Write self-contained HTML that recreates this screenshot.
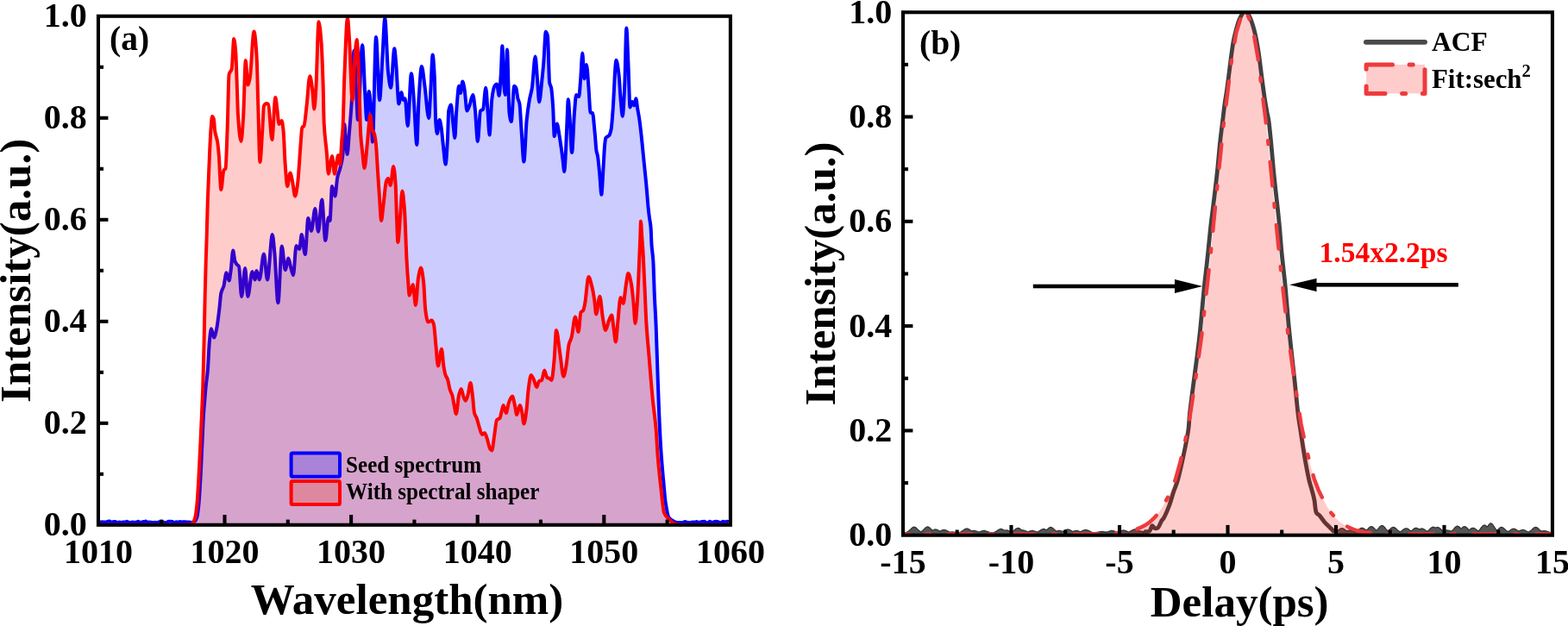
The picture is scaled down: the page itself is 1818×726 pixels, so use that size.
<!DOCTYPE html>
<html><head><meta charset="utf-8"><style>
html,body{margin:0;padding:0;background:#fff;width:1818px;height:726px;overflow:hidden}
svg{display:block}
</style></head><body>
<svg width="1818" height="726" viewBox="0 0 1818 726">
<rect width="1818" height="726" fill="#fff"/>
<clipPath id="ca"><rect x="113.95" y="18.75" width="732.9499999999999" height="590.05"/></clipPath>
<g clip-path="url(#ca)">
<path d="M114,605C114.7,605.3 115.5,605.5 116.2,605.5C116.9,605.5 117.7,605.2 118.4,605.2C119.1,605.2 119.9,605.6 120.6,605.6C121.3,605.6 122.1,605.6 122.8,605.6C123.5,605.6 124.3,604.8 125,604.7C125.7,604.6 126.5,604.6 127.2,604.6C127.9,604.6 128.7,605.9 129.4,605.9C130.1,605.9 130.9,605 131.6,605C132.3,605 133.1,605 133.8,605C134.5,605 135.3,606.2 136,606.2C136.7,606.2 137.5,605.4 138.2,605.4C138.9,605.4 139.7,605.9 140.4,605.9C141.1,605.9 141.9,605.4 142.6,605.4C143.3,605.4 144.1,605.6 144.8,605.6C145.5,605.6 146.3,604.8 147,604.8C147.7,604.8 148.5,605.4 149.2,605.6C149.9,605.8 150.7,606 151.4,606C152.1,606 152.9,605.4 153.6,605.4C154.3,605.4 155.1,605.8 155.8,605.8C156.5,605.8 157.3,605.8 158,605.7C158.7,605.6 159.5,604.7 160.2,604.7C160.9,604.7 161.7,605.8 162.4,605.8C163.1,605.8 163.9,605.6 164.6,605.5C165.3,605.4 166.1,605.2 166.8,605.1C167.5,605 168.3,604.6 169,604.6C169.7,604.6 170.5,606 171.2,606C171.9,606 172.7,605.4 173.4,605.4C174.1,605.4 174.9,605.7 175.6,605.8C176.3,605.9 177.1,606 177.8,606C178.5,606 179.3,605.7 180,605.7C180.7,605.7 181.5,606.1 182.2,606.1C182.9,606.1 183.7,605.2 184.4,605.2C185.1,605.2 185.9,605.9 186.6,605.9C187.3,605.9 188.1,605.3 188.8,605.3C189.5,605.3 190.3,606.1 191,606.1C191.7,606.1 192.5,606.1 193.2,606C193.9,605.9 194.7,604.8 195.4,604.8C196.1,604.8 196.9,604.8 197.6,604.8C198.3,604.8 199.1,604.8 199.8,604.9C200.5,605 201.3,606.1 202,606.1C202.7,606.1 203.5,605.3 204.2,605.3C204.9,605.3 205.7,605.6 206.4,605.6C207.1,605.6 207.9,605.1 208.6,605.1C209.3,605.1 210.1,605.4 210.8,605.4C211.5,605.4 212.3,605.2 213,605.2C213.7,605.2 214.5,605.2 215.2,605.2C215.9,605.2 216.7,605.5 217.4,605.5C218.1,605.5 218.9,605.5 219.6,605.5C220.3,605.5 221.1,606 221.8,606C222.5,606 223.3,605.6 224,605.4C224.5,605.2 225.1,605.1 225.6,604.8C226.5,604.3 227.4,602.8 228.3,600.3C229,598.4 229.7,592.3 230.4,585.6C231.1,578.9 231.8,566.3 232.5,554C233.2,542.3 233.8,526.2 234.5,512.3C235,501.9 235.5,488.8 236,481C236.6,472.2 237.1,467 237.7,460C238,456.3 238.3,452.1 238.6,449C239.3,441.4 240.1,438.3 240.8,430C241.5,422.1 242.2,402.5 242.9,395.7C243.6,388.9 244.3,381.2 245,381.2C246,381.2 247.1,391.6 248.1,391.6C249.1,391.6 250.2,386 251.2,381.2C252.2,376.4 253.3,367 254.3,358.5C255,353 255.6,342.9 256.3,340C257.3,335.5 258.4,335.3 259.4,331.7C260.4,328.1 261.5,316.2 262.5,316.2C263.5,316.2 264.6,325.5 265.6,325.5C266.3,325.5 267,318.1 267.7,313.1C268.5,307.2 269.4,290.4 270.2,290.4C270.9,290.4 271.7,300.8 272.4,302.7C273.2,304.9 274.1,305.9 274.9,306.9C275.6,307.8 276.3,307.8 277,309C278,310.8 279.1,344 280.1,344C281.5,344 282.8,311 284.2,311C285.2,311 286.3,344 287.3,344C289,344 290.8,315 292.5,315C293.5,315 294.6,324.4 295.6,324.4C296.3,324.4 296.9,314 297.6,314C298.6,314 299.7,324.4 300.7,324.4C302.4,324.4 304.2,294.5 305.9,294.5C307.3,294.5 308.6,324.4 310,324.4C311.9,324.4 313.9,272 315.8,272C316.6,272 317.5,283.9 318.3,292.4C319.7,306.3 321,351.3 322.4,351.3C323.9,351.3 325.3,285.5 326.8,285.5C328.1,285.5 329.4,313 330.7,313C331.9,313 333.2,299.6 334.4,299.6C335.2,299.6 336.1,306.1 336.9,309C337.9,312.7 339,319.3 340,319.3C341.2,319.3 342.3,285 343.5,285C344.7,285 346,289 347.2,289C348,289 348.9,272 349.7,272C351.1,272 352.4,295 353.8,295C355,295 356.1,253 357.3,253C358.5,253 359.8,267.8 361,267.8C362.4,267.8 363.9,242 365.3,242C366.5,242 367.8,268.8 369,268.8C370.4,268.8 371.8,231.6 373.2,231.6C374.6,231.6 375.9,279 377.3,279C378.5,279 379.6,252.3 380.8,252.3C381.4,252.3 381.9,256 382.5,256C383.3,256 384.2,216 385,216C386.2,216 387.3,227.5 388.5,227.5C389.4,227.5 390.3,210.1 391.2,205.8C392.2,200.9 393.3,199.6 394.3,195.5C395.3,191.4 396.4,188.4 397.4,180C398.1,174.6 398.7,144 399.4,144C399.9,144 400.5,159.6 401,165C401.6,170.7 402.1,179 402.7,179C403.3,179 404,165.5 404.6,158C405.6,145.8 406.7,134.7 407.7,118.3C408.7,103 409.6,58.4 410.6,58.4C411.4,58.4 412.1,85.6 412.9,100C413.6,112.5 414.2,139 414.9,139C416.6,139 418.4,52.2 420.1,52.2C421.1,52.2 422.2,90.9 423.2,108C423.9,119 424.5,139 425.2,139C426,139 426.9,106 427.7,106C428.6,106 429.5,118.5 430.4,130.7C430.9,137.5 431.4,164.5 431.9,164.5C433.3,164.5 434.6,43 436,43C437.4,43 438.7,116.2 440.1,116.2C441.2,116.2 442.3,83.6 443.4,66.7C444.4,51.9 445.3,21.2 446.3,21.2C447.5,21.2 448.8,72.5 450,83.2C451,92.2 452.1,101.8 453.1,101.8C454.5,101.8 455.9,56.3 457.3,56.3C458,56.3 458.6,67.5 459.3,75C460.3,86.6 461.4,120.4 462.4,120.4C463.4,120.4 464.5,107 465.5,107C466.2,107 466.8,116 467.5,116C468.2,116 469,114.2 469.7,114.2C470.7,114.2 471.7,146 472.7,146C474.1,146 475.5,85.2 476.9,85.2C477.9,85.2 479,105.4 480,118.3C481.1,132 482.2,168 483.3,168C484.1,168 484.8,126.1 485.6,114.2C486.7,97.1 487.8,77 488.9,77C490.1,77 491.3,91.5 492.5,100C494,110.9 495.6,137 497.1,137C497.9,137 498.6,116.2 499.4,103.8C500.1,92 500.9,63.6 501.6,63.6C502.3,63.6 503,75.1 503.7,87.3C504.2,96.6 504.8,136.6 505.3,143.1C505.8,149.6 506.4,155 506.9,155C507.8,155 508.6,139 509.5,139C510.2,139 510.8,143.3 511.5,147C512.3,151.6 513.2,162.9 514,170C514.9,177.4 515.7,190.6 516.6,190.6C517.4,190.6 518.2,174.3 519,160C519.4,152.9 519.8,130.8 520.2,128.6C521.1,123.7 522,121.4 522.9,121.4C523.8,121.4 524.6,137.7 525.5,145C526.1,150.3 526.8,160 527.4,160C528,160 528.5,138.1 529.1,130.7C530.1,117.3 531.2,99.7 532.2,99.7C532.8,99.7 533.4,108 534,108C534.8,108 535.5,94.5 536.3,94.5C537,94.5 537.8,99.2 538.5,103C539.5,108.2 540.5,128.6 541.5,128.6C542.5,128.6 543.5,124.6 544.5,122C545.8,118.7 547,110 548.3,110C549.1,110 550,119.5 550.8,126.6C551.8,135.4 552.9,164 553.9,164C554.9,164 556,129.9 557,128.6C558,127.3 559.1,127.8 560.1,126.6C561.1,125.4 562.2,101.8 563.2,101.8C564,101.8 564.8,119.8 565.6,130C566.2,138.1 566.9,156.5 567.5,156.5C568.5,156.5 569.4,121.1 570.4,114.2C571.4,106.8 572.5,101.1 573.5,99.7C574.3,98.5 575.2,97.6 576,97.6C576.9,97.6 577.8,111.1 578.7,111.1C579.4,111.1 580,97.3 580.7,87.3C581.3,78.8 581.8,53.2 582.4,53.2C582.9,53.2 583.5,88.4 584,95C584.6,102.8 585.3,110 585.9,110C586.6,110 587.3,57.4 588,57.4C588.8,57.4 589.7,124.3 590.5,130.7C591.3,136.6 592,141 592.8,141C593.9,141 595.1,99.7 596.2,99.7C596.9,99.7 597.6,100.7 598.3,102C599,103.3 599.7,111.4 600.4,114.2C601.1,116.9 601.7,117 602.4,120.4C603.1,123.9 603.8,140.5 604.5,150C605.5,163.1 606.4,187.5 607.4,187.5C608.5,187.5 609.6,149.7 610.7,139C611.7,128.9 612.8,122.1 613.8,116.2C614.8,110.3 615.9,108.2 616.9,101.8C618.1,94.1 619.4,65.6 620.6,65.6C621.4,65.6 622.3,83.9 623.1,93.5C623.8,101.5 624.5,118.3 625.2,118.3C626.2,118.3 627.3,102.9 628.3,93.5C629,87.4 629.6,80.9 630.3,72.9C631.1,62.9 632,36.7 632.8,36.7C633.5,36.7 634.3,38.8 635,42C635.7,45.1 636.4,91.8 637.1,95.6C637.8,99.3 638.4,98.6 639.1,101.8C639.8,105.2 640.5,114.1 641.2,124.5C641.7,131.9 642.2,158 642.7,158C643.7,158 644.8,143.5 645.8,143.5C646.7,143.5 647.6,151.9 648.5,157C649.2,160.8 649.8,165.4 650.5,170C651.2,174.6 651.8,179.9 652.5,185C653.1,189.6 653.7,199 654.3,199C654.9,199 655.4,185 656,175C656.5,166.2 657,150.5 657.5,140C657.9,130.9 658.4,115.2 658.8,115.2C659.4,115.2 659.9,127.4 660.5,135C661.4,146.6 662.2,177 663.1,177C664.1,177 665,142.3 666,130.7C666.7,122.3 667.4,110 668.1,110C669.1,110 670.2,112.1 671.2,112.1C671.9,112.1 672.5,99.4 673.2,91.4C673.9,83 674.6,61.5 675.3,61.5C676,61.5 676.7,91.4 677.4,91.4C678.3,91.4 679.1,74.9 680,74.9C680.8,74.9 681.7,91.7 682.5,101.8C683.2,110.3 683.9,130.5 684.6,130.7C685.4,130.9 686.1,130.8 686.9,131C687.9,131.2 688.8,146 689.8,155.5C690.4,161.1 690.9,171.7 691.5,175C692,177.9 692.5,178.3 693,181C693.8,185.5 694.7,196.2 695.5,205C696.1,211.3 696.7,225.7 697.3,225.7C698,225.7 698.8,206.2 699.5,195C700,187.4 700.5,175.2 701,170C701.4,165.5 701.9,160.7 702.3,160C703.6,157.9 705,158.7 706.3,157C707.1,156 707.8,153.7 708.6,150C709.2,147.1 709.8,138 710.4,130.7C711.8,114 713.1,69.8 714.5,69.8C715.5,69.8 716.6,78.8 717.6,87.3C718.3,93.1 719,108.7 719.7,116.2C720.4,123.7 721.1,134.8 721.8,134.8C722.6,134.8 723.5,114.8 724.3,97.6C725,83.8 725.6,32.6 726.3,32.6C727,32.6 727.7,57.8 728.4,72.9C729.1,88 729.8,124.5 730.5,124.5C731.3,124.5 732.2,118 733,118C733.7,118 734.5,122.4 735.2,122.4C735.9,122.4 736.6,114.2 737.3,114.2C738,114.2 738.6,122.6 739.3,126.6C740,130.8 740.7,134.2 741.4,139C741.9,142.6 742.5,147.1 743,151.7C744.2,161.8 745.3,174.5 746.5,186.1C747.6,197.4 748.8,207.8 749.9,220.5C750.4,226.5 751,234.7 751.5,240C752,244.7 752.4,248.4 752.9,252C753.4,256.1 754,257.4 754.5,263C754.9,266.9 755.2,280.1 755.6,285C756.2,292.6 756.7,293.4 757.3,301.6C757.8,308.8 758.3,330.2 758.8,341.7C759.4,355.4 760,363.3 760.6,377.5C761.2,392.5 761.9,415.8 762.5,433.7C763.1,450.6 763.7,468.7 764.3,482.4C764.9,496.9 765.6,510 766.2,519.8C767.2,535.4 768.2,546.2 769.2,557.3C770.1,566.9 770.9,578 771.8,583.5C773.1,591.6 774.3,599 775.6,600.6C777.5,603 779.3,603.6 781.2,604.6C782,605 782.7,605.5 783.5,605.7C784.2,605.9 785,606.1 785.7,606.1C786.4,606.1 787.2,606 787.9,606C788.6,606 789.4,606.2 790.1,606.2C790.8,606.2 791.6,605.9 792.3,605.7C793,605.5 793.8,604.9 794.5,604.9C795.2,604.9 796,605.9 796.7,606C797.4,606.1 798.2,606.1 798.9,606.1C799.6,606.1 800.4,606.1 801.1,606C801.8,605.9 802.6,605.5 803.3,605.5C804,605.5 804.8,605.7 805.5,605.7C806.2,605.7 807,604.9 807.7,604.9C808.4,604.9 809.2,605.9 809.9,605.9C810.6,605.9 811.4,605.6 812.1,605.5C812.8,605.4 813.6,605.2 814.3,605.1C815,605 815.8,604.7 816.5,604.7C817.2,604.7 818,605.9 818.7,606C819.4,606.1 820.2,606.2 820.9,606.2C821.6,606.2 822.4,604.7 823.1,604.7C823.8,604.7 824.6,605.9 825.3,605.9C826,605.9 826.8,605.5 827.5,605.3C828.2,605.1 829,604.8 829.7,604.8C830.4,604.8 831.2,605 831.9,605.1C832.6,605.2 833.4,605.7 834.1,605.8C834.8,605.9 835.6,606 836.3,606C837,606 837.8,604.7 838.5,604.7C839.2,604.7 840,605.6 840.7,605.6C841.4,605.6 842.2,604.7 842.9,604.7C843.6,604.7 844.4,605.1 845.1,605.7 L845.1,608.8 L114,608.8 Z" fill="#00f" fill-opacity="0.2"/>
<path d="M114,605C114.7,605.3 115.5,605.5 116.2,605.5C116.9,605.5 117.7,605.2 118.4,605.2C119.1,605.2 119.9,605.6 120.6,605.6C121.3,605.6 122.1,605.6 122.8,605.6C123.5,605.6 124.3,604.8 125,604.7C125.7,604.6 126.5,604.6 127.2,604.6C127.9,604.6 128.7,605.9 129.4,605.9C130.1,605.9 130.9,605 131.6,605C132.3,605 133.1,605 133.8,605C134.5,605 135.3,606.2 136,606.2C136.7,606.2 137.5,605.4 138.2,605.4C138.9,605.4 139.7,605.9 140.4,605.9C141.1,605.9 141.9,605.4 142.6,605.4C143.3,605.4 144.1,605.6 144.8,605.6C145.5,605.6 146.3,604.8 147,604.8C147.7,604.8 148.5,605.4 149.2,605.6C149.9,605.8 150.7,606 151.4,606C152.1,606 152.9,605.4 153.6,605.4C154.3,605.4 155.1,605.8 155.8,605.8C156.5,605.8 157.3,605.8 158,605.7C158.7,605.6 159.5,604.7 160.2,604.7C160.9,604.7 161.7,605.8 162.4,605.8C163.1,605.8 163.9,605.6 164.6,605.5C165.3,605.4 166.1,605.2 166.8,605.1C167.5,605 168.3,604.6 169,604.6C169.7,604.6 170.5,606 171.2,606C171.9,606 172.7,605.4 173.4,605.4C174.1,605.4 174.9,605.7 175.6,605.8C176.3,605.9 177.1,606 177.8,606C178.5,606 179.3,605.7 180,605.7C180.7,605.7 181.5,606.1 182.2,606.1C182.9,606.1 183.7,605.2 184.4,605.2C185.1,605.2 185.9,605.9 186.6,605.9C187.3,605.9 188.1,605.3 188.8,605.3C189.5,605.3 190.3,606.1 191,606.1C191.7,606.1 192.5,606.1 193.2,606C193.9,605.9 194.7,604.8 195.4,604.8C196.1,604.8 196.9,604.8 197.6,604.8C198.3,604.8 199.1,604.8 199.8,604.9C200.5,605 201.3,606.1 202,606.1C202.7,606.1 203.5,605.3 204.2,605.3C204.9,605.3 205.7,605.6 206.4,605.6C207.1,605.6 207.9,605.1 208.6,605.1C209.3,605.1 210.1,605.4 210.8,605.4C211.5,605.4 212.3,605.2 213,605.2C213.7,605.2 214.5,605.2 215.2,605.2C215.9,605.2 216.7,605.5 217.4,605.5C218.1,605.5 218.9,605.5 219.6,605.5C220.3,605.5 221.1,606 221.8,606C222.5,606 223.3,605.6 224,605.4C224.5,605.2 225.1,605.1 225.6,604.8C226.5,604.3 227.4,602.8 228.3,600.3C229,598.4 229.7,592.3 230.4,585.6C231.1,578.9 231.8,566.3 232.5,554C233.2,542.3 233.8,526.2 234.5,512.3C235,501.9 235.5,488.8 236,481C236.6,472.2 237.1,467 237.7,460C238,456.3 238.3,452.1 238.6,449C239.3,441.4 240.1,438.3 240.8,430C241.5,422.1 242.2,402.5 242.9,395.7C243.6,388.9 244.3,381.2 245,381.2C246,381.2 247.1,391.6 248.1,391.6C249.1,391.6 250.2,386 251.2,381.2C252.2,376.4 253.3,367 254.3,358.5C255,353 255.6,342.9 256.3,340C257.3,335.5 258.4,335.3 259.4,331.7C260.4,328.1 261.5,316.2 262.5,316.2C263.5,316.2 264.6,325.5 265.6,325.5C266.3,325.5 267,318.1 267.7,313.1C268.5,307.2 269.4,290.4 270.2,290.4C270.9,290.4 271.7,300.8 272.4,302.7C273.2,304.9 274.1,305.9 274.9,306.9C275.6,307.8 276.3,307.8 277,309C278,310.8 279.1,344 280.1,344C281.5,344 282.8,311 284.2,311C285.2,311 286.3,344 287.3,344C289,344 290.8,315 292.5,315C293.5,315 294.6,324.4 295.6,324.4C296.3,324.4 296.9,314 297.6,314C298.6,314 299.7,324.4 300.7,324.4C302.4,324.4 304.2,294.5 305.9,294.5C307.3,294.5 308.6,324.4 310,324.4C311.9,324.4 313.9,272 315.8,272C316.6,272 317.5,283.9 318.3,292.4C319.7,306.3 321,351.3 322.4,351.3C323.9,351.3 325.3,285.5 326.8,285.5C328.1,285.5 329.4,313 330.7,313C331.9,313 333.2,299.6 334.4,299.6C335.2,299.6 336.1,306.1 336.9,309C337.9,312.7 339,319.3 340,319.3C341.2,319.3 342.3,285 343.5,285C344.7,285 346,289 347.2,289C348,289 348.9,272 349.7,272C351.1,272 352.4,295 353.8,295C355,295 356.1,253 357.3,253C358.5,253 359.8,267.8 361,267.8C362.4,267.8 363.9,242 365.3,242C366.5,242 367.8,268.8 369,268.8C370.4,268.8 371.8,231.6 373.2,231.6C374.6,231.6 375.9,279 377.3,279C378.5,279 379.6,252.3 380.8,252.3C381.4,252.3 381.9,256 382.5,256C383.3,256 384.2,216 385,216C386.2,216 387.3,227.5 388.5,227.5C389.4,227.5 390.3,210.1 391.2,205.8C392.2,200.9 393.3,199.6 394.3,195.5C395.3,191.4 396.4,188.4 397.4,180C398.1,174.6 398.7,144 399.4,144C399.9,144 400.5,159.6 401,165C401.6,170.7 402.1,179 402.7,179C403.3,179 404,165.5 404.6,158C405.6,145.8 406.7,134.7 407.7,118.3C408.7,103 409.6,58.4 410.6,58.4C411.4,58.4 412.1,85.6 412.9,100C413.6,112.5 414.2,139 414.9,139C416.6,139 418.4,52.2 420.1,52.2C421.1,52.2 422.2,90.9 423.2,108C423.9,119 424.5,139 425.2,139C426,139 426.9,106 427.7,106C428.6,106 429.5,118.5 430.4,130.7C430.9,137.5 431.4,164.5 431.9,164.5C433.3,164.5 434.6,43 436,43C437.4,43 438.7,116.2 440.1,116.2C441.2,116.2 442.3,83.6 443.4,66.7C444.4,51.9 445.3,21.2 446.3,21.2C447.5,21.2 448.8,72.5 450,83.2C451,92.2 452.1,101.8 453.1,101.8C454.5,101.8 455.9,56.3 457.3,56.3C458,56.3 458.6,67.5 459.3,75C460.3,86.6 461.4,120.4 462.4,120.4C463.4,120.4 464.5,107 465.5,107C466.2,107 466.8,116 467.5,116C468.2,116 469,114.2 469.7,114.2C470.7,114.2 471.7,146 472.7,146C474.1,146 475.5,85.2 476.9,85.2C477.9,85.2 479,105.4 480,118.3C481.1,132 482.2,168 483.3,168C484.1,168 484.8,126.1 485.6,114.2C486.7,97.1 487.8,77 488.9,77C490.1,77 491.3,91.5 492.5,100C494,110.9 495.6,137 497.1,137C497.9,137 498.6,116.2 499.4,103.8C500.1,92 500.9,63.6 501.6,63.6C502.3,63.6 503,75.1 503.7,87.3C504.2,96.6 504.8,136.6 505.3,143.1C505.8,149.6 506.4,155 506.9,155C507.8,155 508.6,139 509.5,139C510.2,139 510.8,143.3 511.5,147C512.3,151.6 513.2,162.9 514,170C514.9,177.4 515.7,190.6 516.6,190.6C517.4,190.6 518.2,174.3 519,160C519.4,152.9 519.8,130.8 520.2,128.6C521.1,123.7 522,121.4 522.9,121.4C523.8,121.4 524.6,137.7 525.5,145C526.1,150.3 526.8,160 527.4,160C528,160 528.5,138.1 529.1,130.7C530.1,117.3 531.2,99.7 532.2,99.7C532.8,99.7 533.4,108 534,108C534.8,108 535.5,94.5 536.3,94.5C537,94.5 537.8,99.2 538.5,103C539.5,108.2 540.5,128.6 541.5,128.6C542.5,128.6 543.5,124.6 544.5,122C545.8,118.7 547,110 548.3,110C549.1,110 550,119.5 550.8,126.6C551.8,135.4 552.9,164 553.9,164C554.9,164 556,129.9 557,128.6C558,127.3 559.1,127.8 560.1,126.6C561.1,125.4 562.2,101.8 563.2,101.8C564,101.8 564.8,119.8 565.6,130C566.2,138.1 566.9,156.5 567.5,156.5C568.5,156.5 569.4,121.1 570.4,114.2C571.4,106.8 572.5,101.1 573.5,99.7C574.3,98.5 575.2,97.6 576,97.6C576.9,97.6 577.8,111.1 578.7,111.1C579.4,111.1 580,97.3 580.7,87.3C581.3,78.8 581.8,53.2 582.4,53.2C582.9,53.2 583.5,88.4 584,95C584.6,102.8 585.3,110 585.9,110C586.6,110 587.3,57.4 588,57.4C588.8,57.4 589.7,124.3 590.5,130.7C591.3,136.6 592,141 592.8,141C593.9,141 595.1,99.7 596.2,99.7C596.9,99.7 597.6,100.7 598.3,102C599,103.3 599.7,111.4 600.4,114.2C601.1,116.9 601.7,117 602.4,120.4C603.1,123.9 603.8,140.5 604.5,150C605.5,163.1 606.4,187.5 607.4,187.5C608.5,187.5 609.6,149.7 610.7,139C611.7,128.9 612.8,122.1 613.8,116.2C614.8,110.3 615.9,108.2 616.9,101.8C618.1,94.1 619.4,65.6 620.6,65.6C621.4,65.6 622.3,83.9 623.1,93.5C623.8,101.5 624.5,118.3 625.2,118.3C626.2,118.3 627.3,102.9 628.3,93.5C629,87.4 629.6,80.9 630.3,72.9C631.1,62.9 632,36.7 632.8,36.7C633.5,36.7 634.3,38.8 635,42C635.7,45.1 636.4,91.8 637.1,95.6C637.8,99.3 638.4,98.6 639.1,101.8C639.8,105.2 640.5,114.1 641.2,124.5C641.7,131.9 642.2,158 642.7,158C643.7,158 644.8,143.5 645.8,143.5C646.7,143.5 647.6,151.9 648.5,157C649.2,160.8 649.8,165.4 650.5,170C651.2,174.6 651.8,179.9 652.5,185C653.1,189.6 653.7,199 654.3,199C654.9,199 655.4,185 656,175C656.5,166.2 657,150.5 657.5,140C657.9,130.9 658.4,115.2 658.8,115.2C659.4,115.2 659.9,127.4 660.5,135C661.4,146.6 662.2,177 663.1,177C664.1,177 665,142.3 666,130.7C666.7,122.3 667.4,110 668.1,110C669.1,110 670.2,112.1 671.2,112.1C671.9,112.1 672.5,99.4 673.2,91.4C673.9,83 674.6,61.5 675.3,61.5C676,61.5 676.7,91.4 677.4,91.4C678.3,91.4 679.1,74.9 680,74.9C680.8,74.9 681.7,91.7 682.5,101.8C683.2,110.3 683.9,130.5 684.6,130.7C685.4,130.9 686.1,130.8 686.9,131C687.9,131.2 688.8,146 689.8,155.5C690.4,161.1 690.9,171.7 691.5,175C692,177.9 692.5,178.3 693,181C693.8,185.5 694.7,196.2 695.5,205C696.1,211.3 696.7,225.7 697.3,225.7C698,225.7 698.8,206.2 699.5,195C700,187.4 700.5,175.2 701,170C701.4,165.5 701.9,160.7 702.3,160C703.6,157.9 705,158.7 706.3,157C707.1,156 707.8,153.7 708.6,150C709.2,147.1 709.8,138 710.4,130.7C711.8,114 713.1,69.8 714.5,69.8C715.5,69.8 716.6,78.8 717.6,87.3C718.3,93.1 719,108.7 719.7,116.2C720.4,123.7 721.1,134.8 721.8,134.8C722.6,134.8 723.5,114.8 724.3,97.6C725,83.8 725.6,32.6 726.3,32.6C727,32.6 727.7,57.8 728.4,72.9C729.1,88 729.8,124.5 730.5,124.5C731.3,124.5 732.2,118 733,118C733.7,118 734.5,122.4 735.2,122.4C735.9,122.4 736.6,114.2 737.3,114.2C738,114.2 738.6,122.6 739.3,126.6C740,130.8 740.7,134.2 741.4,139C741.9,142.6 742.5,147.1 743,151.7C744.2,161.8 745.3,174.5 746.5,186.1C747.6,197.4 748.8,207.8 749.9,220.5C750.4,226.5 751,234.7 751.5,240C752,244.7 752.4,248.4 752.9,252C753.4,256.1 754,257.4 754.5,263C754.9,266.9 755.2,280.1 755.6,285C756.2,292.6 756.7,293.4 757.3,301.6C757.8,308.8 758.3,330.2 758.8,341.7C759.4,355.4 760,363.3 760.6,377.5C761.2,392.5 761.9,415.8 762.5,433.7C763.1,450.6 763.7,468.7 764.3,482.4C764.9,496.9 765.6,510 766.2,519.8C767.2,535.4 768.2,546.2 769.2,557.3C770.1,566.9 770.9,578 771.8,583.5C773.1,591.6 774.3,599 775.6,600.6C777.5,603 779.3,603.6 781.2,604.6C782,605 782.7,605.5 783.5,605.7C784.2,605.9 785,606.1 785.7,606.1C786.4,606.1 787.2,606 787.9,606C788.6,606 789.4,606.2 790.1,606.2C790.8,606.2 791.6,605.9 792.3,605.7C793,605.5 793.8,604.9 794.5,604.9C795.2,604.9 796,605.9 796.7,606C797.4,606.1 798.2,606.1 798.9,606.1C799.6,606.1 800.4,606.1 801.1,606C801.8,605.9 802.6,605.5 803.3,605.5C804,605.5 804.8,605.7 805.5,605.7C806.2,605.7 807,604.9 807.7,604.9C808.4,604.9 809.2,605.9 809.9,605.9C810.6,605.9 811.4,605.6 812.1,605.5C812.8,605.4 813.6,605.2 814.3,605.1C815,605 815.8,604.7 816.5,604.7C817.2,604.7 818,605.9 818.7,606C819.4,606.1 820.2,606.2 820.9,606.2C821.6,606.2 822.4,604.7 823.1,604.7C823.8,604.7 824.6,605.9 825.3,605.9C826,605.9 826.8,605.5 827.5,605.3C828.2,605.1 829,604.8 829.7,604.8C830.4,604.8 831.2,605 831.9,605.1C832.6,605.2 833.4,605.7 834.1,605.8C834.8,605.9 835.6,606 836.3,606C837,606 837.8,604.7 838.5,604.7C839.2,604.7 840,605.6 840.7,605.6C841.4,605.6 842.2,604.7 842.9,604.7C843.6,604.7 844.4,605.1 845.1,605.7" fill="none" stroke="#00f" stroke-width="4" stroke-linejoin="round"/>
<path d="M114,608.8C136,608.8 158,608.8 180,608.8C193.3,608.8 206.7,608.8 220,608.6C221.1,608.6 222.1,607.9 223.2,607C224.2,606.2 225.2,603.8 226.2,600.3C226.9,597.9 227.6,592.3 228.3,585.6C229,578.9 229.7,566.2 230.4,554.2C231.1,542.2 231.8,527.1 232.5,512.3C233,502.4 233.4,491.8 233.9,481C234.3,471 234.8,462.8 235.2,450C235.6,437.2 236.1,418.6 236.5,400C236.9,382.8 237.3,359 237.7,342C238.1,326.4 238.4,311.9 238.8,300C239,292.5 239.3,287.4 239.5,280C239.9,266.3 240.4,245.9 240.8,233C241.5,212.1 242.2,196.1 242.9,181C243.4,169.5 244,157 244.5,150C245,143.4 245.5,135 246,135C246.6,135 247.2,136.2 247.8,138C248.3,139.4 248.7,149 249.2,152C250.2,158.4 251.2,158.8 252.2,165C252.7,168.3 253.3,173.8 253.8,180C254.6,189.7 255.5,220 256.3,220C257.3,220 258.4,199.2 259.4,197.5C260.1,196.4 260.8,196.8 261.5,195.5C262.2,194.2 262.9,168.1 263.6,150C264.3,132.7 264.9,88.6 265.6,86C266.6,82 267.7,83.6 268.7,80C269.5,77.1 270.4,45 271.2,45C271.9,45 272.6,52.5 273.3,61C273.8,67.5 274.4,88.5 274.9,103C275.3,113 275.6,128.7 276,134C277.2,150.9 278.3,164 279.5,164C280.4,164 281.2,148.9 282.1,136C283,122.6 283.9,70 284.8,70C285.6,70 286.5,98.5 287.3,98.5C288.1,98.5 289,94.1 289.8,90C291.4,82.2 292.9,36.5 294.5,36.5C295.5,36.5 296.6,49.5 297.6,65.5C298.2,74.3 298.7,104.7 299.3,123C300,145.7 300.7,188 301.4,188C302.4,188 303.3,164.4 304.3,150C304.8,142 305.4,124.1 305.9,123C306.9,120.9 308,120 309,120C309.7,120 310.4,120.4 311.1,121C312.5,122.2 314,162 315.4,162C316.7,162 318,113 319.3,113C320,113 320.7,121.9 321.4,127C322.1,132.1 322.8,144 323.5,144C324.5,144 325.6,140 326.6,140C327.3,140 327.9,146 328.6,152C329.3,158.3 330,181.8 330.7,191C331.5,201.9 332.4,216 333.2,216C334.3,216 335.4,200.6 336.5,200.6C337.3,200.6 338.2,206.3 339,210C340,214.6 341.1,227.5 342.1,227.5C343.1,227.5 344.2,219.5 345.2,212C346.2,204.5 347.3,183.6 348.3,171C349,162.8 349.6,149.1 350.3,148C351,146.7 351.8,147.1 352.5,146C353.5,144.4 354.5,131.3 355.5,123C356.8,112.5 358,88.3 359.3,88.3C360.3,88.3 361.2,96.9 362.2,104C362.9,109.1 363.6,126.6 364.3,126.6C365,126.6 365.7,112.9 366.4,102C367.4,85.9 368.5,25.3 369.5,25.3C370.5,25.3 371.6,37.2 372.6,50C373.3,58.3 373.9,76.9 374.6,97.6C375,109 375.3,136 375.7,143C376.7,162.7 377.8,164.9 378.8,177C379.5,184.8 380.1,201.7 380.8,201.7C381.5,201.7 382.3,193.6 383,190C383.7,186.8 384.3,181 385,181C386,181 387,201.7 388,201.7C388.7,201.7 389.3,193.4 390,190C390.7,186.2 391.5,180 392.2,180C392.9,180 393.6,191 394.3,191C395,191 395.6,170.2 396.3,162C396.7,157.5 397,155.7 397.4,150C398.1,139.7 398.7,103.1 399.4,87C400.6,58.8 401.7,21 402.9,21C403.8,21 404.7,40.5 405.6,56C406.3,68.1 407,100 407.7,108C408,111.8 408.4,116 408.7,116C409.4,116 410.1,86.6 410.8,77C411.8,63.7 412.7,46 413.7,46C414.2,46 414.8,57.3 415.3,67C415.9,77.3 416.4,100 417,118C417.4,129.7 417.7,149 418.1,155C418.8,167 419.6,170.4 420.3,177C421,183.6 421.8,195 422.5,195C423.6,195 424.8,176.3 425.9,166C427,155.7 428.2,133 429.3,133C430,133 430.7,148.9 431.4,150.7C432.1,152.6 432.9,152.3 433.6,154C434.3,155.7 435.1,160.1 435.8,166C436.5,171.9 437.3,188 438,199C438.7,210 439.5,221.7 440.2,232C440.8,240.5 441.4,256 442,256C442.9,256 443.7,243.7 444.6,237C445.7,228.5 446.8,212.5 447.9,210C448.6,208.4 449.4,207 450.1,207C451,207 451.8,215 452.7,215C453.9,215 455,193 456.2,193C457,193 457.8,202.2 458.6,213C459.1,219.3 459.5,241.6 460,253C460.4,263.6 460.9,281 461.3,281C462.2,281 463.2,259.9 464.1,249C464.9,240.1 465.6,221.6 466.4,221.6C467.3,221.6 468.1,232.4 469,243C469.8,253.2 470.7,286.1 471.5,301C472.2,313.5 472.9,323.5 473.6,332C473.9,336 474.3,342.6 474.6,342.6C476,342.6 477.4,330 478.8,330C479.8,330 480.9,354 481.9,354C482.9,354 484,327.6 485,322C486,316.4 487.1,310.6 488.1,310.6C489.1,310.6 490.2,319.2 491.2,328C491.9,333.7 492.5,354 493.2,359C494.2,366.8 495.3,373.6 496.3,373.6C497.7,373.6 499.1,371.6 500.5,371.6C501.3,371.6 502.1,373.5 502.9,376C503.7,378.6 504.6,392.5 505.4,400.6C506.2,408.7 507.1,424.4 507.9,424.4C509.3,424.4 510.6,404.8 512,404.8C512.8,404.8 513.7,420.6 514.5,425.5C515.2,429.4 515.8,432.9 516.5,434.8C517.3,437.2 518.2,437.6 519,440C519.9,442.5 520.8,449.2 521.7,452C522.6,454.8 523.5,455.5 524.4,458.5C525.1,460.7 525.7,465.8 526.4,469C527.2,473 528.1,480 528.9,480C529.9,480 531,462.6 532,458.5C532.9,455 533.8,451 534.7,451C535.5,451 536.4,457.3 537.2,459.5C538,461.7 538.9,464.7 539.7,464.7C540.6,464.7 541.5,461.3 542.4,458.5C543.4,455.3 544.5,444 545.5,444C546.3,444 547.1,452.5 547.9,458.5C548.6,463.8 549.3,476.4 550,479C550.9,482.3 551.8,482.6 552.7,485C553.7,487.8 554.8,492.6 555.8,495.7C556.8,498.8 557.9,504 558.9,504C559.9,504 561,502 562,502C563,502 564.1,507 565.1,510C566.1,513 567.2,518.9 568.2,520.5C568.9,521.5 569.5,522.6 570.2,522.6C571.2,522.6 572.3,510.4 573.3,504C574.2,498.5 575.1,488 576,487C577.2,485.7 578.3,486.2 579.5,485C580.2,484.3 580.9,479.5 581.6,477C582.3,474.5 583,470 583.7,470C584.7,470 585.8,479 586.8,479C587.8,479 588.9,469.6 589.9,467C591.3,463.5 592.6,459.5 594,459.5C595,459.5 596.1,466.7 597.1,471C597.8,473.9 598.5,481 599.2,481C600.4,481 601.5,470 602.7,470C603.6,470 604.5,475 605.4,479C606.1,482 606.7,491.6 607.4,491.6C608.4,491.6 609.5,482.6 610.5,475C611.2,469.9 611.9,457.2 612.6,452C613.6,444.3 614.7,435 615.7,435C616.7,435 617.8,438 618.8,440C620,442.3 621.1,449 622.3,449C623.2,449 624.1,442.5 625,442C626,441.4 627.1,441.6 628.1,441C629.1,440.4 630.2,429.6 631.2,429.6C632.2,429.6 633.3,437.4 634.3,438C635.3,438.6 636.4,438.5 637.4,439C638.1,439.3 638.8,441 639.5,441C640.5,441 641.6,427.5 642.6,417C643.4,408.9 644.2,383 645,383C646.4,383 647.9,400.8 649.3,410C650.7,418.7 652,436.7 653.4,436.7C654.4,436.7 655.5,429.6 656.5,424C657.5,418.4 658.6,403.7 659.6,399.5C660.6,395.3 661.7,394.7 662.7,391C664.1,385.9 665.5,367.5 666.9,367.5C668.1,367.5 669.4,385 670.6,385C671.6,385 672.5,363.3 673.5,362C674.4,360.8 675.3,361.2 676.2,360C676.9,359.1 677.5,355.3 678.2,352C679.6,345 681,321 682.4,321C683.8,321 685.1,327.6 686.5,333C687.4,336.5 688.3,342 689.2,348C689.9,352.5 690.5,364.4 691.2,364.4C692.6,364.4 694,343.7 695.4,343.7C696.6,343.7 697.7,362 698.9,368.5C699.9,374.3 701,383 702,383C703.2,383 704.5,375.5 705.7,372.6C706.9,369.8 708,365.4 709.2,365.4C709.9,365.4 710.6,374.2 711.3,378.8C712.2,384.5 713,396.5 713.9,396.5C714.7,396.5 715.6,380.3 716.4,372.6C717.4,363.1 718.5,345 719.5,345C720.5,345 721.6,352 722.6,352C723.6,352 724.7,337.1 725.7,331C726.6,325.7 727.5,317 728.4,317C729.6,317 730.7,323.2 731.9,329C732.8,333.5 733.7,342.9 734.6,352C735.2,358.4 735.9,375 736.5,375C737.3,375 738,362.4 738.8,352C739.5,342.9 740.1,325.5 740.8,310.7C741.3,299.6 741.8,287.6 742.3,275C742.5,269.1 742.8,256.5 743,256.5C743.4,256.5 743.9,269 744.3,275C744.7,280.1 745,284.1 745.4,290C746.1,300.7 746.7,316.9 747.4,331C748.1,345.1 748.7,364.3 749.4,375C750.5,392.1 751.5,400.9 752.6,414C753.3,422.6 754,431.8 754.7,440C755.4,448.2 756.1,456.6 756.8,463.6C758.1,476.3 759.3,482.5 760.6,497.4C761.2,504.8 761.9,519.3 762.5,527.3C763.7,542.9 765,553.8 766.2,564.8C767.5,576 768.7,591.8 770,594.8C771.9,599.3 773.7,600.4 775.6,602.3C776.8,603.6 778.1,604.6 779.3,605.5C780.5,606.4 781.8,607.5 783,607.8C785.3,608.4 787.7,608.8 790,608.8C809,608.8 828,608.8 847,608.8 L847,608.8 L114,608.8 Z" fill="#f00" fill-opacity="0.2"/>
<path d="M114,608.8C136,608.8 158,608.8 180,608.8C193.3,608.8 206.7,608.8 220,608.6C221.1,608.6 222.1,607.9 223.2,607C224.2,606.2 225.2,603.8 226.2,600.3C226.9,597.9 227.6,592.3 228.3,585.6C229,578.9 229.7,566.2 230.4,554.2C231.1,542.2 231.8,527.1 232.5,512.3C233,502.4 233.4,491.8 233.9,481C234.3,471 234.8,462.8 235.2,450C235.6,437.2 236.1,418.6 236.5,400C236.9,382.8 237.3,359 237.7,342C238.1,326.4 238.4,311.9 238.8,300C239,292.5 239.3,287.4 239.5,280C239.9,266.3 240.4,245.9 240.8,233C241.5,212.1 242.2,196.1 242.9,181C243.4,169.5 244,157 244.5,150C245,143.4 245.5,135 246,135C246.6,135 247.2,136.2 247.8,138C248.3,139.4 248.7,149 249.2,152C250.2,158.4 251.2,158.8 252.2,165C252.7,168.3 253.3,173.8 253.8,180C254.6,189.7 255.5,220 256.3,220C257.3,220 258.4,199.2 259.4,197.5C260.1,196.4 260.8,196.8 261.5,195.5C262.2,194.2 262.9,168.1 263.6,150C264.3,132.7 264.9,88.6 265.6,86C266.6,82 267.7,83.6 268.7,80C269.5,77.1 270.4,45 271.2,45C271.9,45 272.6,52.5 273.3,61C273.8,67.5 274.4,88.5 274.9,103C275.3,113 275.6,128.7 276,134C277.2,150.9 278.3,164 279.5,164C280.4,164 281.2,148.9 282.1,136C283,122.6 283.9,70 284.8,70C285.6,70 286.5,98.5 287.3,98.5C288.1,98.5 289,94.1 289.8,90C291.4,82.2 292.9,36.5 294.5,36.5C295.5,36.5 296.6,49.5 297.6,65.5C298.2,74.3 298.7,104.7 299.3,123C300,145.7 300.7,188 301.4,188C302.4,188 303.3,164.4 304.3,150C304.8,142 305.4,124.1 305.9,123C306.9,120.9 308,120 309,120C309.7,120 310.4,120.4 311.1,121C312.5,122.2 314,162 315.4,162C316.7,162 318,113 319.3,113C320,113 320.7,121.9 321.4,127C322.1,132.1 322.8,144 323.5,144C324.5,144 325.6,140 326.6,140C327.3,140 327.9,146 328.6,152C329.3,158.3 330,181.8 330.7,191C331.5,201.9 332.4,216 333.2,216C334.3,216 335.4,200.6 336.5,200.6C337.3,200.6 338.2,206.3 339,210C340,214.6 341.1,227.5 342.1,227.5C343.1,227.5 344.2,219.5 345.2,212C346.2,204.5 347.3,183.6 348.3,171C349,162.8 349.6,149.1 350.3,148C351,146.7 351.8,147.1 352.5,146C353.5,144.4 354.5,131.3 355.5,123C356.8,112.5 358,88.3 359.3,88.3C360.3,88.3 361.2,96.9 362.2,104C362.9,109.1 363.6,126.6 364.3,126.6C365,126.6 365.7,112.9 366.4,102C367.4,85.9 368.5,25.3 369.5,25.3C370.5,25.3 371.6,37.2 372.6,50C373.3,58.3 373.9,76.9 374.6,97.6C375,109 375.3,136 375.7,143C376.7,162.7 377.8,164.9 378.8,177C379.5,184.8 380.1,201.7 380.8,201.7C381.5,201.7 382.3,193.6 383,190C383.7,186.8 384.3,181 385,181C386,181 387,201.7 388,201.7C388.7,201.7 389.3,193.4 390,190C390.7,186.2 391.5,180 392.2,180C392.9,180 393.6,191 394.3,191C395,191 395.6,170.2 396.3,162C396.7,157.5 397,155.7 397.4,150C398.1,139.7 398.7,103.1 399.4,87C400.6,58.8 401.7,21 402.9,21C403.8,21 404.7,40.5 405.6,56C406.3,68.1 407,100 407.7,108C408,111.8 408.4,116 408.7,116C409.4,116 410.1,86.6 410.8,77C411.8,63.7 412.7,46 413.7,46C414.2,46 414.8,57.3 415.3,67C415.9,77.3 416.4,100 417,118C417.4,129.7 417.7,149 418.1,155C418.8,167 419.6,170.4 420.3,177C421,183.6 421.8,195 422.5,195C423.6,195 424.8,176.3 425.9,166C427,155.7 428.2,133 429.3,133C430,133 430.7,148.9 431.4,150.7C432.1,152.6 432.9,152.3 433.6,154C434.3,155.7 435.1,160.1 435.8,166C436.5,171.9 437.3,188 438,199C438.7,210 439.5,221.7 440.2,232C440.8,240.5 441.4,256 442,256C442.9,256 443.7,243.7 444.6,237C445.7,228.5 446.8,212.5 447.9,210C448.6,208.4 449.4,207 450.1,207C451,207 451.8,215 452.7,215C453.9,215 455,193 456.2,193C457,193 457.8,202.2 458.6,213C459.1,219.3 459.5,241.6 460,253C460.4,263.6 460.9,281 461.3,281C462.2,281 463.2,259.9 464.1,249C464.9,240.1 465.6,221.6 466.4,221.6C467.3,221.6 468.1,232.4 469,243C469.8,253.2 470.7,286.1 471.5,301C472.2,313.5 472.9,323.5 473.6,332C473.9,336 474.3,342.6 474.6,342.6C476,342.6 477.4,330 478.8,330C479.8,330 480.9,354 481.9,354C482.9,354 484,327.6 485,322C486,316.4 487.1,310.6 488.1,310.6C489.1,310.6 490.2,319.2 491.2,328C491.9,333.7 492.5,354 493.2,359C494.2,366.8 495.3,373.6 496.3,373.6C497.7,373.6 499.1,371.6 500.5,371.6C501.3,371.6 502.1,373.5 502.9,376C503.7,378.6 504.6,392.5 505.4,400.6C506.2,408.7 507.1,424.4 507.9,424.4C509.3,424.4 510.6,404.8 512,404.8C512.8,404.8 513.7,420.6 514.5,425.5C515.2,429.4 515.8,432.9 516.5,434.8C517.3,437.2 518.2,437.6 519,440C519.9,442.5 520.8,449.2 521.7,452C522.6,454.8 523.5,455.5 524.4,458.5C525.1,460.7 525.7,465.8 526.4,469C527.2,473 528.1,480 528.9,480C529.9,480 531,462.6 532,458.5C532.9,455 533.8,451 534.7,451C535.5,451 536.4,457.3 537.2,459.5C538,461.7 538.9,464.7 539.7,464.7C540.6,464.7 541.5,461.3 542.4,458.5C543.4,455.3 544.5,444 545.5,444C546.3,444 547.1,452.5 547.9,458.5C548.6,463.8 549.3,476.4 550,479C550.9,482.3 551.8,482.6 552.7,485C553.7,487.8 554.8,492.6 555.8,495.7C556.8,498.8 557.9,504 558.9,504C559.9,504 561,502 562,502C563,502 564.1,507 565.1,510C566.1,513 567.2,518.9 568.2,520.5C568.9,521.5 569.5,522.6 570.2,522.6C571.2,522.6 572.3,510.4 573.3,504C574.2,498.5 575.1,488 576,487C577.2,485.7 578.3,486.2 579.5,485C580.2,484.3 580.9,479.5 581.6,477C582.3,474.5 583,470 583.7,470C584.7,470 585.8,479 586.8,479C587.8,479 588.9,469.6 589.9,467C591.3,463.5 592.6,459.5 594,459.5C595,459.5 596.1,466.7 597.1,471C597.8,473.9 598.5,481 599.2,481C600.4,481 601.5,470 602.7,470C603.6,470 604.5,475 605.4,479C606.1,482 606.7,491.6 607.4,491.6C608.4,491.6 609.5,482.6 610.5,475C611.2,469.9 611.9,457.2 612.6,452C613.6,444.3 614.7,435 615.7,435C616.7,435 617.8,438 618.8,440C620,442.3 621.1,449 622.3,449C623.2,449 624.1,442.5 625,442C626,441.4 627.1,441.6 628.1,441C629.1,440.4 630.2,429.6 631.2,429.6C632.2,429.6 633.3,437.4 634.3,438C635.3,438.6 636.4,438.5 637.4,439C638.1,439.3 638.8,441 639.5,441C640.5,441 641.6,427.5 642.6,417C643.4,408.9 644.2,383 645,383C646.4,383 647.9,400.8 649.3,410C650.7,418.7 652,436.7 653.4,436.7C654.4,436.7 655.5,429.6 656.5,424C657.5,418.4 658.6,403.7 659.6,399.5C660.6,395.3 661.7,394.7 662.7,391C664.1,385.9 665.5,367.5 666.9,367.5C668.1,367.5 669.4,385 670.6,385C671.6,385 672.5,363.3 673.5,362C674.4,360.8 675.3,361.2 676.2,360C676.9,359.1 677.5,355.3 678.2,352C679.6,345 681,321 682.4,321C683.8,321 685.1,327.6 686.5,333C687.4,336.5 688.3,342 689.2,348C689.9,352.5 690.5,364.4 691.2,364.4C692.6,364.4 694,343.7 695.4,343.7C696.6,343.7 697.7,362 698.9,368.5C699.9,374.3 701,383 702,383C703.2,383 704.5,375.5 705.7,372.6C706.9,369.8 708,365.4 709.2,365.4C709.9,365.4 710.6,374.2 711.3,378.8C712.2,384.5 713,396.5 713.9,396.5C714.7,396.5 715.6,380.3 716.4,372.6C717.4,363.1 718.5,345 719.5,345C720.5,345 721.6,352 722.6,352C723.6,352 724.7,337.1 725.7,331C726.6,325.7 727.5,317 728.4,317C729.6,317 730.7,323.2 731.9,329C732.8,333.5 733.7,342.9 734.6,352C735.2,358.4 735.9,375 736.5,375C737.3,375 738,362.4 738.8,352C739.5,342.9 740.1,325.5 740.8,310.7C741.3,299.6 741.8,287.6 742.3,275C742.5,269.1 742.8,256.5 743,256.5C743.4,256.5 743.9,269 744.3,275C744.7,280.1 745,284.1 745.4,290C746.1,300.7 746.7,316.9 747.4,331C748.1,345.1 748.7,364.3 749.4,375C750.5,392.1 751.5,400.9 752.6,414C753.3,422.6 754,431.8 754.7,440C755.4,448.2 756.1,456.6 756.8,463.6C758.1,476.3 759.3,482.5 760.6,497.4C761.2,504.8 761.9,519.3 762.5,527.3C763.7,542.9 765,553.8 766.2,564.8C767.5,576 768.7,591.8 770,594.8C771.9,599.3 773.7,600.4 775.6,602.3C776.8,603.6 778.1,604.6 779.3,605.5C780.5,606.4 781.8,607.5 783,607.8C785.3,608.4 787.7,608.8 790,608.8C809,608.8 828,608.8 847,608.8" fill="none" stroke="#f00" stroke-width="4" stroke-linejoin="round"/>
</g>
<g stroke="#000" stroke-width="4.1" fill="none">
<rect x="113.95" y="18.75" width="732.9499999999999" height="590.05"/>
<line x1="187.2" y1="608.8" x2="187.2" y2="602.6"/>
<line x1="260.5" y1="608.8" x2="260.5" y2="597"/>
<line x1="333.8" y1="608.8" x2="333.8" y2="602.6"/>
<line x1="407.1" y1="608.8" x2="407.1" y2="597"/>
<line x1="480.4" y1="608.8" x2="480.4" y2="602.6"/>
<line x1="553.7" y1="608.8" x2="553.7" y2="597"/>
<line x1="627" y1="608.8" x2="627" y2="602.6"/>
<line x1="700.3" y1="608.8" x2="700.3" y2="597"/>
<line x1="773.6" y1="608.8" x2="773.6" y2="602.6"/>
<line x1="114" y1="549.8" x2="120" y2="549.8"/>
<line x1="114" y1="490.8" x2="125.4" y2="490.8"/>
<line x1="114" y1="431.8" x2="120" y2="431.8"/>
<line x1="114" y1="372.8" x2="125.4" y2="372.8"/>
<line x1="114" y1="313.8" x2="120" y2="313.8"/>
<line x1="114" y1="254.8" x2="125.4" y2="254.8"/>
<line x1="114" y1="195.8" x2="120" y2="195.8"/>
<line x1="114" y1="136.8" x2="125.4" y2="136.8"/>
<line x1="114" y1="77.8" x2="120" y2="77.8"/>
</g>
<clipPath id="cb"><rect x="1047.0" y="14.25" width="752.95" height="606.45"/></clipPath>
<g clip-path="url(#cb)">
<path d="M1049.5,617.7 1050.5,617.5 1051.5,617.2 1052.5,616.7 1053.5,616 1054.5,615.1 1055.5,614.2 1056.5,613.2 1057.5,612.3 1058.5,611.6 1059.5,611.2 1060.5,611.3 1061.5,611.7 1062.5,612.4 1063.5,613.4 1064.5,614.4 1065.5,615.3 1066.5,616.1 1067.5,616.8 1068.5,616.4 1069.5,615.6 1070.5,614.7 1071.5,613.6 1072.5,612.6 1073.5,611.8 1074.5,611.2 1075.5,611 1076.5,611.2 1077.5,611.8 1078.5,612.6 1079.5,613.6 1080.5,614.7 1081.5,615 1082.5,614.5 1083.5,614.1 1084.5,614 1085.5,614.1 1086.5,614.4 1087.5,614.9 1088.5,615.5 1089.5,616 1090.5,615.8 1091.5,615.3 1092.5,614.9 1093.5,614.6 1094.5,614.5 1095.5,614.6 1096.5,614.9 1097.5,615.3 1098.5,615.8 1099.5,616.3 1100.5,616.8 1101.5,617.2 1102.5,617.1 1103.5,617 1104.5,617 1105.5,617.1 1106.5,617.2 1107.5,617.3 1108.5,617.5 1109.5,617.6 1110.5,617.7 1111.5,617.6 1112.5,617.4 1113.5,617 1114.5,616.5 1115.5,615.9 1116.5,615.2 1117.5,614.5 1118.5,613.8 1119.5,613.3 1120.5,613 1121.5,613.1 1122.5,613.4 1123.5,613.9 1124.5,614.6 1125.5,615.3 1126.5,616 1127.5,615.7 1128.5,615.5 1129.5,615.5 1130.5,615.6 1131.5,615.9 1132.5,616.2 1133.5,616.6 1134.5,616.9 1135.5,616.9 1136.5,616.5 1137.5,616.2 1138.5,615.8 1139.5,615.6 1140.5,615.5 1141.5,615.5 1142.5,615.7 1143.5,616 1144.5,616.4 1145.5,616.7 1146.5,617.1 1147.5,617.4 1148.5,617.6 1149.5,617.7 1150.5,617.8 1151.5,617.6 1152.5,617.3 1153.5,617 1154.5,616.5 1155.5,615.9 1156.5,615.2 1157.5,614.6 1158.5,614 1159.5,613.6 1160.5,613.5 1161.5,613.6 1162.5,614 1163.5,614.6 1164.5,615.2 1165.5,615.2 1166.5,615 1167.5,615 1168.5,615.2 1169.5,615.5 1170.5,615.9 1171.5,616.4 1172.5,616.8 1173.5,616.6 1174.5,616 1175.5,615.2 1176.5,614.4 1177.5,613.6 1178.5,613 1179.5,612.6 1180.5,612.5 1181.5,612.7 1182.5,613.2 1183.5,613.9 1184.5,614.7 1185.5,615 1186.5,615 1187.5,615.2 1188.5,615.5 1189.5,615.9 1190.5,616.4 1191.5,616.8 1192.5,616.6 1193.5,616.2 1194.5,615.9 1195.5,615.6 1196.5,615.5 1197.5,615.5 1198.5,615.7 1199.5,616 1200.5,616.3 1201.5,616.7 1202.5,617 1203.5,616.7 1204.5,616.2 1205.5,615.5 1206.5,614.9 1207.5,614.3 1208.5,613.8 1209.5,613.5 1210.5,613.5 1211.5,613.8 1212.5,614.3 1213.5,614.7 1214.5,613.8 1215.5,612.9 1216.5,612.1 1217.5,611.6 1218.5,611.5 1219.5,611.8 1220.5,612.4 1221.5,613.2 1222.5,614.2 1223.5,615.1 1224.5,615.9 1225.5,616 1226.5,615.7 1227.5,615.5 1228.5,615.5 1229.5,615.6 1230.5,615.9 1231.5,616.2 1232.5,616.4 1233.5,615.8 1234.5,615.2 1235.5,614.7 1236.5,614.3 1237.5,614 1238.5,614 1239.5,614.3 1240.5,614.7 1241.5,615.2 1242.5,615.8 1243.5,616.4 1244.5,616.3 1245.5,615.9 1246.5,615.7 1247.5,615.5 1248.5,615.5 1249.5,615.7 1250.5,615.9 1251.5,616.3 1252.5,616.6 1253.5,616.4 1254.5,615.9 1255.5,615.4 1256.5,615 1257.5,614.6 1258.5,614.5 1259.5,614.6 1260.5,614.8 1261.5,615.2 1262.5,615.7 1263.5,616.2 1264.5,616.7 1265.5,617.1 1266.5,617.4 1267.5,617.6 1268.5,617.8 1269.5,617.8 1270.5,617.7 1271.5,617.5 1272.5,617.3 1273.5,617.1 1274.5,616.9 1275.5,616.7 1276.5,616.6 1277.5,616.5 1278.5,616.5 1279.5,616.6 1280.5,616.8 1281.5,617 1282.5,617.2 1283.5,617 1284.5,616.7 1285.5,616.3 1286.5,616 1287.5,615.7 1288.5,615.5 1289.5,615.5 1290.5,615.6 1291.5,615.9 1292.5,616.2 1293.5,616.6 1294.5,616.9 1295.5,617.2 1296.5,616.9 1297.5,616.5 1298.5,616.1 1299.5,615.7 1300.5,615.3 1301.5,615.1 1302.5,615 1303.5,615.1 1304.5,615.4 1305.5,615.7 1306.5,616.2 1307.5,616.6 1308.5,617 1309.5,616.7 1310.5,616.2 1311.5,615.6 1312.5,615 1313.5,614.5 1314.5,614.1 1315.5,614 1316.5,614.1 1317.5,614.4 1318.5,614.9 1319.5,615.5 1320.5,616 1321.5,616 1322.5,616 1323.5,616.1 1324.5,616.3 1325.5,616.6 L1325.5,621 L1049.5,621 Z" fill="#555" stroke="#333" stroke-width="1.3" stroke-linejoin="round"/>
<path d="M1548,617.2 1549,616.7 1550,616.1 1551,615.4 1552,614.6 1553,613.9 1554,613.2 1555,612.8 1556,612.7 1557,612.9 1558,613.4 1559,614 1560,614.8 1561,615.6 1562,615.7 1563,615.3 1564,615.1 1565,615 1566,615.1 1567,615.3 1568,615.7 1569,616.1 1570,616.6 1571,617 1572,616.8 1573,616.2 1574,615.4 1575,614.6 1576,613.8 1577,613.1 1578,612.5 1579,612.3 1580,612.4 1581,612.8 1582,613.5 1583,614.3 1584,615.1 1585,614.5 1586,613.5 1587,612.4 1588,611.5 1589,610.9 1590,610.7 1591,610.9 1592,611.5 1593,612.4 1594,613.5 1595,614.5 1596,615.4 1597,614.3 1598,613.1 1599,611.9 1600,610.7 1601,609.9 1602,609.5 1603,609.6 1604,610.2 1605,611.2 1606,612.3 1607,613.6 1608,614.8 1609,615.8 1610,615.4 1611,614.4 1612,613.5 1613,612.6 1614,611.9 1615,611.5 1616,611.5 1617,611.9 1618,612.6 1619,613.5 1620,614.4 1621,615.4 1622,616.1 1623,616.8 1624,616.5 1625,615.8 1626,615.1 1627,614.3 1628,613.6 1629,613.1 1630,612.8 1631,612.9 1632,613.2 1633,613.7 1634,614.5 1635,615.2 1636,616 1637,615.2 1638,614.4 1639,613.6 1640,612.9 1641,612.4 1642,612.3 1643,612.5 1644,613 1645,613.7 1646,613.8 1647,613.3 1648,613 1649,613 1650,613.3 1651,613.8 1652,614.5 1653,615.3 1654,616 1655,616.2 1656,615.4 1657,614.5 1658,613.5 1659,612.5 1660,611.8 1661,611.3 1662,611.2 1663,611.5 1664,612.2 1665,612 1666,611.6 1667,611.5 1668,611.8 1669,612.4 1670,613.3 1671,614.2 1672,615.2 1673,616 1674,616.1 1675,615.7 1676,615.3 1677,615.1 1678,615 1679,615.1 1680,615.3 1681,615.7 1682,616.1 1683,616 1684,615.1 1685,614.1 1686,612.9 1687,611.8 1688,610.9 1689,610.3 1690,610.2 1691,610.5 1692,611.2 1693,612.2 1694,613.4 1695,612.4 1696,611.5 1697,610.9 1698,610.7 1699,610.9 1700,611.5 1701,612.4 1702,613.5 1703,614.5 1704,614.4 1705,613.6 1706,612.9 1707,612.4 1708,612.3 1709,612.5 1710,613 1711,613.7 1712,614.5 1713,615.4 1714,616 1715,615 1716,613.8 1717,612.5 1718,611.2 1719,610.1 1720,609.3 1721,609 1722,609.2 1723,609.9 1724,611 1725,610.3 1726,608.8 1727,607.6 1728,607 1729,607 1730,607.6 1731,608.8 1732,610.3 1733,611.9 1734,613.5 1735,614.8 1736,614.8 1737,613.9 1738,612.9 1739,612.2 1740,611.7 1741,611.5 1742,611.7 1743,612.3 1744,613.1 1745,614.1 1746,615 1747,615.8 1748,616.5 1749,616.4 1750,615.7 1751,615 1752,614.3 1753,613.7 1754,613.3 1755,613.2 1756,613.3 1757,613.7 1758,614.3 1759,615 1760,615.7 1761,616.2 1762,615.7 1763,615.2 1764,614.8 1765,614.6 1766,614.5 1767,614.7 1768,615 1769,615.5 1770,616 1771,616.5 1772,616.9 1773,616.8 1774,616.1 1775,615.4 1776,614.4 1777,613.5 1778,612.6 1779,611.9 1780,611.5 1781,611.5 1782,611.9 1783,612.6 1784,613.5 1785,614.4 1786,615.4 1787,616.1 1788,616 1789,615.7 1790,615.6 1791,615.6 1792,615.8 1793,616 1794,616.4 1795,616.7 1796,617.1 1797,617.3 1798,617.6 L1798,621 L1548,621 Z" fill="#555" stroke="#333" stroke-width="1.3" stroke-linejoin="round"/>
<path d="M1327.9,616.7C1328.7,616.5 1331.6,616.9 1332.9,615.7C1334.2,614.5 1334.9,610.2 1335.9,609.7C1336.9,609.2 1337.7,612.4 1338.9,612.7C1340.1,613 1341.6,613.2 1342.9,611.7C1344.2,610.2 1345.7,605.8 1346.9,603.8C1348.1,601.8 1348.4,602.8 1349.9,599.8C1351.4,596.8 1354.1,590.8 1355.9,585.8C1357.7,580.8 1359.2,574.8 1360.9,569.8C1362.6,564.8 1364,562.4 1365.8,555.8C1367.6,549.1 1369.8,539.2 1371.8,529.9C1373.8,520.6 1376.3,508.3 1377.6,500C1378.9,491.7 1378.5,488.3 1379.4,480C1380.3,471.7 1381.7,460.9 1383.1,450C1384.5,439.1 1386.4,425.4 1387.8,414.4C1389.2,403.4 1390.3,394.7 1391.4,384C1392.5,373.3 1393.8,358.7 1394.6,350C1395.4,341.3 1395.7,338.1 1396.3,332C1396.9,325.9 1397.6,320.5 1398.4,313.6C1399.2,306.7 1400,299.4 1400.9,290.5C1401.8,281.6 1403,268.5 1404,260C1405,251.5 1405.7,246.5 1406.6,239.3C1407.5,232.1 1408.4,224.4 1409.3,216.9C1410.2,209.4 1410.9,203.3 1411.8,194.5C1412.7,185.7 1413.7,173.1 1414.7,164C1415.7,154.9 1416.7,147.2 1417.6,140C1418.5,132.8 1419.1,126.8 1419.9,121C1420.7,115.2 1421.7,110 1422.4,104.9C1423.1,99.8 1423.5,96.6 1424.3,90.6C1425.1,84.6 1426.1,76 1427,69.1C1427.9,62.2 1428.9,54.8 1429.8,49.4C1430.7,44 1431.4,41.4 1432.6,36.9C1433.8,32.4 1435.2,26.8 1437,22.5C1438.8,18.2 1442.3,12.9 1443.4,11 L1443.4,11C1444.4,12.7 1447.6,16.2 1449.6,21C1451.6,25.8 1453.8,33.2 1455.4,40C1457,46.8 1458.1,53.7 1459.4,62C1460.7,70.3 1461.9,81.7 1463,90C1464.1,98.3 1465,105.3 1466,112C1467,118.7 1468.2,125.3 1469,130C1469.8,134.7 1470.2,134.3 1471,140C1471.8,145.7 1472.7,154.9 1473.6,164C1474.5,173.1 1475.5,185.7 1476.3,194.5C1477.1,203.3 1477.8,209.4 1478.6,216.9C1479.4,224.4 1480.3,231.9 1481.1,239.3C1481.9,246.8 1482.6,253.1 1483.4,261.6C1484.2,270.1 1485,281.8 1485.8,290.5C1486.6,299.2 1487.5,306.5 1488.2,313.6C1489,320.7 1489.2,321 1490.3,332.9C1491.4,344.8 1493.1,367 1494.9,384.9C1496.7,402.8 1499.2,424.1 1500.9,440C1502.6,455.9 1503.8,470 1505,480C1506.2,490 1507,493.3 1508,500C1509,506.7 1510,513.7 1511,520C1512,526.3 1512.8,531.6 1514,537.9C1515.2,544.2 1516.8,552.8 1518,557.8C1519.2,562.8 1519.9,564.1 1520.9,567.8C1521.9,571.5 1523.1,575.5 1523.9,579.8C1524.7,584.1 1524.9,590.8 1525.9,593.8C1526.9,596.8 1528.2,595.8 1529.9,597.8C1531.6,599.8 1534.2,603.7 1535.9,605.7C1537.6,607.7 1538.7,608.5 1539.9,609.7C1541.1,610.9 1541.9,611.7 1542.9,612.7C1543.9,613.7 1545.4,615.2 1545.9,615.7" fill="none" stroke="#404040" stroke-width="4.8" stroke-linejoin="round" stroke-linecap="round"/>
<path d="M1047.1,619.4 1052.1,619.4 1057.1,619.4 1062.1,619.4 1067.1,619.4 1072.1,619.4 1077.2,619.4 1082.2,619.4 1087.2,619.4 1092.2,619.4 1097.2,619.4 1102.2,619.4 1107.3,619.4 1112.3,619.4 1117.3,619.4 1122.3,619.4 1127.3,619.4 1132.3,619.4 1137.4,619.4 1142.4,619.4 1147.4,619.4 1152.4,619.4 1157.4,619.4 1162.5,619.4 1167.5,619.4 1172.5,619.4 1177.5,619.4 1182.5,619.4 1187.5,619.4 1192.5,619.4 1197.6,619.4 1202.6,619.4 1207.6,619.4 1212.6,619.4 1217.6,619.4 1222.7,619.4 1227.7,619.4 1232.7,619.4 1237.7,619.4 1242.7,619.4 1247.7,619.4 1252.8,619.4 1257.8,619.4 1262.8,619.4 1267.8,619.4 1272.8,619.4 1277.8,619.4 1282.9,619.4 1287.9,619.4 1292.9,618.4 1297.9,618 1302.9,617.5 1307.9,616.7 1313,615.5 1318,613.7 1323,611.5 1328,609 1333,605.5 1338,600.9 1343.1,595.3 1348.1,587.6 1353.1,578.4 1358.1,568.4 1363.1,555.2 1368.1,537.2 1373.2,515.6 1378.2,492.1 1383.2,459.6 1388.2,425.2 1393.2,389.5 1398.2,344.2 1403.3,298.1 1408.3,247.2 1413.3,196.6 1418.3,147.3 1423.3,107.6 1428.3,67.1 1433.4,37.5 1438.4,21.5 1443.4,11 1448.4,21.5 1453.4,37.5 1458.5,67.1 1463.5,107.6 1468.5,147.3 1473.5,196.6 1478.5,247.2 1483.5,298.1 1488.5,344.2 1493.6,389.5 1498.6,425.2 1503.6,459.6 1508.6,492.1 1513.6,515.6 1518.7,537.2 1523.7,555.2 1528.7,568.4 1533.7,578.4 1538.7,587.6 1543.7,595.3 1548.8,600.9 1553.8,605.5 1558.8,609 1563.8,611.5 1568.8,613.7 1573.8,615.5 1578.9,616.7 1583.9,617.5 1588.9,618 1593.9,618.4 1598.9,619.4 1603.9,619.4 1609,619.4 1614,619.4 1619,619.4 1624,619.4 1629,619.4 1634,619.4 1639.1,619.4 1644.1,619.4 1649.1,619.4 1654.1,619.4 1659.1,619.4 1664.2,619.4 1669.2,619.4 1674.2,619.4 1679.2,619.4 1684.2,619.4 1689.2,619.4 1694.2,619.4 1699.3,619.4 1704.3,619.4 1709.3,619.4 1714.3,619.4 1719.3,619.4 1724.3,619.4 1729.4,619.4 1734.4,619.4 1739.4,619.4 1744.4,619.4 1749.4,619.4 1754.5,619.4 1759.5,619.4 1764.5,619.4 1769.5,619.4 1774.5,619.4 1779.5,619.4 1784.6,619.4 1789.6,619.4 1794.6,619.4 1799.6,619.4 L1800,620.7 L1047.0,620.7 Z" fill="#f00" fill-opacity="0.2"/>
<path d="M1047.1,619.4 1052.1,619.4 1057.1,619.4 1062.1,619.4 1067.1,619.4 1072.1,619.4 1077.2,619.4 1082.2,619.4 1087.2,619.4 1092.2,619.4 1097.2,619.4 1102.2,619.4 1107.3,619.4 1112.3,619.4 1117.3,619.4 1122.3,619.4 1127.3,619.4 1132.3,619.4 1137.4,619.4 1142.4,619.4 1147.4,619.4 1152.4,619.4 1157.4,619.4 1162.5,619.4 1167.5,619.4 1172.5,619.4 1177.5,619.4 1182.5,619.4 1187.5,619.4 1192.5,619.4 1197.6,619.4 1202.6,619.4 1207.6,619.4 1212.6,619.4 1217.6,619.4 1222.7,619.4 1227.7,619.4 1232.7,619.4 1237.7,619.4 1242.7,619.4 1247.7,619.4 1252.8,619.4 1257.8,619.4 1262.8,619.4 1267.8,619.4 1272.8,619.4 1277.8,619.4 1282.9,619.4 1287.9,619.4 1292.9,618.4 1297.9,618 1302.9,617.5 1307.9,616.7 1313,615.5 1318,613.7 1323,611.5 1328,609 1333,605.5 1338,600.9 1343.1,595.3 1348.1,587.6 1353.1,578.4 1358.1,568.4 1363.1,555.2 1368.1,537.2 1373.2,515.6 1378.2,492.1 1383.2,459.6 1388.2,425.2 1393.2,389.5 1398.2,344.2 1403.3,298.1 1408.3,247.2 1413.3,196.6 1418.3,147.3 1423.3,107.6 1428.3,67.1 1433.4,37.5 1438.4,21.5 1443.4,11 1448.4,21.5 1453.4,37.5 1458.5,67.1 1463.5,107.6 1468.5,147.3 1473.5,196.6 1478.5,247.2 1483.5,298.1 1488.5,344.2 1493.6,389.5 1498.6,425.2 1503.6,459.6 1508.6,492.1 1513.6,515.6 1518.7,537.2 1523.7,555.2 1528.7,568.4 1533.7,578.4 1538.7,587.6 1543.7,595.3 1548.8,600.9 1553.8,605.5 1558.8,609 1563.8,611.5 1568.8,613.7 1573.8,615.5 1578.9,616.7 1583.9,617.5 1588.9,618 1593.9,618.4 1598.9,619.4 1603.9,619.4 1609,619.4 1614,619.4 1619,619.4 1624,619.4 1629,619.4 1634,619.4 1639.1,619.4 1644.1,619.4 1649.1,619.4 1654.1,619.4 1659.1,619.4 1664.2,619.4 1669.2,619.4 1674.2,619.4 1679.2,619.4 1684.2,619.4 1689.2,619.4 1694.2,619.4 1699.3,619.4 1704.3,619.4 1709.3,619.4 1714.3,619.4 1719.3,619.4 1724.3,619.4 1729.4,619.4 1734.4,619.4 1739.4,619.4 1744.4,619.4 1749.4,619.4 1754.5,619.4 1759.5,619.4 1764.5,619.4 1769.5,619.4 1774.5,619.4 1779.5,619.4 1784.6,619.4 1789.6,619.4 1794.6,619.4 1799.6,619.4" fill="none" stroke="#ee3a3d" stroke-width="4.4" stroke-linecap="round" stroke-linejoin="round" stroke-dasharray="27.7 20.8 4.1 20.8" stroke-dashoffset="21.6"/>
</g>
<g stroke="#000" stroke-width="4.1" fill="none">
<rect x="1047.0" y="14.25" width="752.95" height="606.45"/>
<line x1="1109.7" y1="620.7" x2="1109.7" y2="614.5"/>
<line x1="1172.5" y1="620.7" x2="1172.5" y2="608.9"/>
<line x1="1235.2" y1="620.7" x2="1235.2" y2="614.5"/>
<line x1="1298" y1="620.7" x2="1298" y2="608.9"/>
<line x1="1360.7" y1="620.7" x2="1360.7" y2="614.5"/>
<line x1="1423.5" y1="620.7" x2="1423.5" y2="608.9"/>
<line x1="1486.2" y1="620.7" x2="1486.2" y2="614.5"/>
<line x1="1549" y1="620.7" x2="1549" y2="608.9"/>
<line x1="1611.7" y1="620.7" x2="1611.7" y2="614.5"/>
<line x1="1674.5" y1="620.7" x2="1674.5" y2="608.9"/>
<line x1="1737.2" y1="620.7" x2="1737.2" y2="614.5"/>
<line x1="1047" y1="560.1" x2="1053" y2="560.1"/>
<line x1="1047" y1="499.4" x2="1058.4" y2="499.4"/>
<line x1="1047" y1="438.8" x2="1053" y2="438.8"/>
<line x1="1047" y1="378.1" x2="1058.4" y2="378.1"/>
<line x1="1047" y1="317.5" x2="1053" y2="317.5"/>
<line x1="1047" y1="256.8" x2="1058.4" y2="256.8"/>
<line x1="1047" y1="196.2" x2="1053" y2="196.2"/>
<line x1="1047" y1="135.5" x2="1058.4" y2="135.5"/>
<line x1="1047" y1="74.9" x2="1053" y2="74.9"/>
</g>
<g fill="#000" stroke="none">
<rect x="1197.8" y="329.7" width="166" height="4.6"/>
<path d="M1362,324 L1394.2,332 L1362,340 Z"/>
<rect x="1524" y="328" width="166.8" height="4.6"/>
<path d="M1526.5,322.8 L1495,330.3 L1526.5,338.2 Z"/>
</g>
<g style="font-family:'Liberation Serif','Times New Roman',serif;font-weight:bold;font-size:40px" fill="#000">
<text x="100.8" y="621.3" text-anchor="end">0.0</text>
<text x="100.8" y="503.3" text-anchor="end">0.2</text>
<text x="100.8" y="385.3" text-anchor="end">0.4</text>
<text x="100.8" y="267.3" text-anchor="end">0.6</text>
<text x="100.8" y="149.3" text-anchor="end">0.8</text>
<text x="100.8" y="31.2" text-anchor="end">1.0</text>
<text x="114" y="653" text-anchor="middle">1010</text>
<text x="260.5" y="653" text-anchor="middle">1020</text>
<text x="407.1" y="653" text-anchor="middle">1030</text>
<text x="553.7" y="653" text-anchor="middle">1040</text>
<text x="700.3" y="653" text-anchor="middle">1050</text>
<text x="846.9" y="653" text-anchor="middle">1060</text>
<text x="1034.2" y="633.1" text-anchor="end">0.0</text>
<text x="1034.2" y="511.8" text-anchor="end">0.2</text>
<text x="1034.2" y="390.5" text-anchor="end">0.4</text>
<text x="1034.2" y="269.2" text-anchor="end">0.6</text>
<text x="1034.2" y="147.9" text-anchor="end">0.8</text>
<text x="1034.2" y="26.6" text-anchor="end">1.0</text>
<text x="1047" y="664.5" text-anchor="middle">-15</text>
<text x="1172.5" y="664.5" text-anchor="middle">-10</text>
<text x="1298" y="664.5" text-anchor="middle">-5</text>
<text x="1423.5" y="664.5" text-anchor="middle">0</text>
<text x="1549" y="664.5" text-anchor="middle">5</text>
<text x="1674.5" y="664.5" text-anchor="middle">10</text>
<text x="1800" y="664.5" text-anchor="middle">15</text>
</g>
<g style="font-family:'Liberation Serif','Times New Roman',serif;font-weight:bold;font-size:51px" fill="#000">
<text x="472" y="712.3" text-anchor="middle">Wavelength(nm)</text>
<text x="1437.2" y="715.4" text-anchor="middle">Delay(ps)</text>
<text transform="translate(34.7,313.9) rotate(-90)" text-anchor="middle">Intensity(a.u.)</text>
<text transform="translate(968,317.5) rotate(-90)" text-anchor="middle">Intensity(a.u.)</text>
</g>
<g style="font-family:'Liberation Serif','Times New Roman',serif;font-weight:bold;font-size:39.5px" fill="#000">
<text x="127" y="58">(a)</text>
<text x="1066" y="62.5">(b)</text>
</g>
<rect x="337.6" y="525.5" width="56.4" height="27.2" fill="#a983d8" stroke="#00f" stroke-width="4" rx="1.5"/>
<rect x="337.6" y="557.9" width="56.4" height="27.2" fill="#de88a0" stroke="#f00" stroke-width="4" rx="1.5"/>
<g style="font-family:'Liberation Serif','Times New Roman',serif;font-weight:bold;font-size:27px" fill="#000" transform="translate(401,0) scale(0.932,1)">
<text x="0" y="547.8">Seed spectrum</text>
<text x="0" y="579.5">With spectral shaper</text>
</g>
<line x1="1583.9" y1="48.85" x2="1652" y2="48.85" stroke="#4a4a4a" stroke-width="5.9" stroke-linecap="round"/>
<rect x="1584.1" y="74.9" width="67.9" height="33.5" fill="#fcc" stroke="none"/>
<path d="M1584.1,74.9 L1652,74.9 L1652,108.4 L1584.1,108.4 Z" fill="none" stroke="#ee3a3d" stroke-width="5" stroke-linecap="round" stroke-linejoin="round" stroke-dasharray="30.4 19.6 4.1 19.6"/>
<g style="font-family:'Liberation Serif','Times New Roman',serif;font-weight:bold;font-size:31.5px" fill="#000">
<text x="1660" y="59.3">ACF</text>
<text x="1660" y="102.4" transform="translate(1660,0) scale(0.98,1) translate(-1660,0)">Fit:sech<tspan dy="-13.2" dx="0" style="font-size:21px">2</tspan></text>
</g>
<text x="1529.5" y="303.8" style="font-family:'Liberation Serif','Times New Roman',serif;font-weight:bold;font-size:33.5px" fill="#f00">1.54x2.2ps</text>
</svg>
</body></html>
